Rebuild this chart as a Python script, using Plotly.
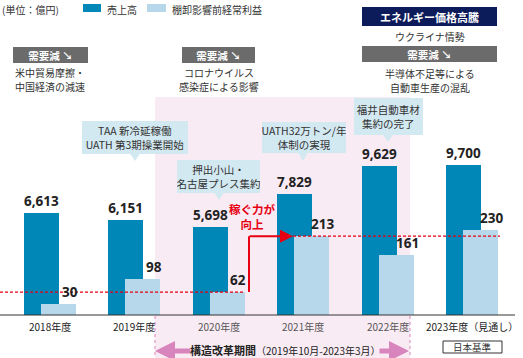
import plotly.graph_objects as go

# ---- data ----
years = ["2018年度", "2019年度", "2020年度", "2021年度", "2022年度", "2023年度（見通し）"]
sales = [6613, 6151, 5698, 7829, 9629, 9700]
profit = [30, 98, 62, 213, 161, 230]

W, H = 523, 358
PLOT_BOTTOM = 315
X0, DX = 50.0, 84.4

def px2x(px):
    return (px - X0) / DX

def py2p(py):
    return (PLOT_BOTTOM - py) / PLOT_BOTTOM

DARK = "#0087b7"
LIGHT = "#b7d8ea"
PINK_BG = "#f9ebf4"
PINK = "#d884bd"
RED = "#e60012"
GRAY = "#6b6b6b"
NAVY = "#0c1b5a"
CALLOUT = "#d3e9f2"
TXT = "#333333"
JP = "Noto Sans CJK JP"
NUM = "Open Sans, Noto Sans CJK JP"
NUMSIZE = 13.5

xs = list(range(len(years)))
bw = 35 / DX
off = 8.5 / DX

fig = go.Figure()
fig.add_trace(go.Bar(
    x=xs, y=sales, width=bw, offset=-off - bw / 2, marker=dict(color=DARK, line=dict(width=0)),
    text=[f"{v:,}" for v in sales], textposition="outside", cliponaxis=False,
    textfont=dict(family=NUM, size=NUMSIZE, color="#222"), texttemplate="<b>%{text}</b>",
    yaxis="y", showlegend=False, hoverinfo="skip"))
fig.add_trace(go.Bar(
    x=xs, y=profit, width=bw, offset=off - bw / 2, marker=dict(color=LIGHT, line=dict(width=0)),
    yaxis="y2", showlegend=False, hoverinfo="skip"))

shapes = []
ann = []

# pink structural reform background
shapes.append(dict(type="rect", xref="x", yref="paper", x0=px2x(155), x1=px2x(410),
                   y0=py2p(358), y1=py2p(97), fillcolor=PINK_BG, line=dict(width=0), layer="below"))
for p in (155, 410):
    shapes.append(dict(type="line", xref="x", yref="paper", x0=px2x(p), x1=px2x(p),
                       y0=py2p(316), y1=py2p(358), line=dict(color=PINK, width=1, dash="dot")))

# baseline
shapes.append(dict(type="line", xref="paper", yref="paper", x0=0, x1=515 / W, y0=0, y1=0,
                   line=dict(color="#333", width=1)))

# red dashed levels
shapes.append(dict(type="line", xref="x", yref="y2", x0=px2x(0), x1=px2x(245), y0=profit[2], y1=profit[2],
                   line=dict(color=RED, width=1.2, dash="3px,2px")))
shapes.append(dict(type="line", xref="x", yref="y2", x0=px2x(293), x1=px2x(500), y0=profit[3], y1=profit[3],
                   line=dict(color=RED, width=1.2, dash="3px,2px")))
# red step
shapes.append(dict(type="line", xref="x", yref="y2", x0=px2x(249), x1=px2x(249), y0=profit[2], y1=profit[3],
                   line=dict(color=RED, width=2)))
ann.append(dict(x=px2x(293), y=profit[3], xref="x", yref="y2", ax=-45, ay=0,
                axref="pixel", ayref="pixel", showarrow=True, arrowhead=2, arrowsize=1.3, arrowwidth=2,
                arrowcolor=RED, text=""))
ann.append(dict(x=px2x(252), y=py2p(216), xref="x", yref="paper", showarrow=False,
                text="<b>稼ぐ力が<br>向上</b>", font=dict(family=JP, size=11.5, color=RED)))

# profit labels
for i, v in enumerate(profit):
    ann.append(dict(x=i + off, y=v, xref="x", yref="y2", xshift=11, yshift=1, yanchor="bottom",
                    showarrow=False, text=f"<b>{v}</b>", font=dict(family=NUM, size=NUMSIZE, color="#222")))

# x tick labels
tick_colors = ["#222", "#222", "#555", "#555", "#555", "#222"]
for i, t in enumerate(years):
    ann.append(dict(x=i, y=py2p(326), xref="x", yref="paper", showarrow=False, text=t,
                    font=dict(family=JP, size=10, color=tick_colors[i])))

# callouts
callouts = [
    ("TAA 新冷延稼働<br>UATH 第3期操業開始", 82, 188, 121, 154, 135, 161),
    ("押出小山・<br>名古屋プレス集約", 177, 260, 160, 193, 219, 200),
    ("UATH32万トン/年<br>体制の実現", 262, 346, 122, 153, 303, 161),
    ("福井自動車材<br>集約の完了", 354, 423, 98, 135, 388, 142),
]
for text, l, r, t, b, px, tip in callouts:
    ann.append(dict(x=px2x((l + r) / 2), y=py2p((t + b) / 2), xref="x", yref="paper", showarrow=False,
                    text=text, width=r - l, height=b - t, bgcolor=CALLOUT, borderpad=0, borderwidth=0,
                    font=dict(family=JP, size=10.5, color=TXT), align="center", valign="middle"))
    shapes.append(dict(type="path", xref="x", yref="paper",
                       path=f"M {px2x(px-5)},{py2p(b-0.5)} L {px2x(px+5)},{py2p(b-0.5)} L {px2x(px)},{py2p(tip)} Z",
                       fillcolor=CALLOUT, line=dict(width=0)))

# header boxes
def box(text, l, r, t, b, color, size=10.5):
    ann.append(dict(x=(l + r) / 2 / W, y=py2p((t + b) / 2), xref="paper", yref="paper", showarrow=False,
                    text=text, width=r - l, height=b - t, bgcolor=color, borderpad=0, borderwidth=0,
                    font=dict(family=JP, size=size, color="white"), align="center", valign="middle"))

def label(text, cx, cy, size=10, color=TXT, anchor="center"):
    ann.append(dict(x=cx / W, y=py2p(cy), xref="paper", yref="paper", showarrow=False, text=text,
                    xanchor=anchor, font=dict(family=JP, size=size, color=color), align="center"))

box("<b>需要減 ↘</b>", 13, 88, 47, 63, GRAY)
label("米中貿易摩擦・", 50, 72.5)
label("中国経済の減速", 50, 86.5)
box("<b>需要減 ↘</b>", 182, 255, 47, 63, GRAY)
label("コロナウイルス", 219, 72.5)
label("感染症による影響", 219, 86.5)
box("<b>エネルギー価格高騰</b>", 362, 497, 7, 26, NAVY, 11)
label("ウクライナ情勢", 430, 36)
box("<b>需要減 ↘</b>", 362, 497, 46, 62, GRAY)
label("半導体不足等による", 430, 73.5)
label("自動車生産の混乱", 430, 87.5)

# unit + legend
label("(単位：億円)", 0, 9, anchor="left")
shapes.append(dict(type="rect", xref="paper", yref="paper", x0=83 / W, x1=101 / W, y0=py2p(12), y1=py2p(4),
                   fillcolor=DARK, line=dict(width=0)))
label("売上高", 105, 9, anchor="left")
shapes.append(dict(type="rect", xref="paper", yref="paper", x0=147 / W, x1=166 / W, y0=py2p(12), y1=py2p(4),
                   fillcolor=LIGHT, line=dict(width=0)))
label("棚卸影響前経常利益", 170, 9, anchor="left")

# bottom period arrows
ann.append(dict(x=px2x(155), y=py2p(351), xref="x", yref="paper", ax=37, ay=0,
                axref="pixel", ayref="pixel", showarrow=True, arrowhead=2, arrowsize=0.8, arrowwidth=5,
                arrowcolor=PINK, text=""))
ann.append(dict(x=px2x(409), y=py2p(351), xref="x", yref="paper", ax=-31, ay=0,
                axref="pixel", ayref="pixel", showarrow=True, arrowhead=2, arrowsize=0.8, arrowwidth=5,
                arrowcolor=PINK, text=""))
label("<b><span style='font-size:11px'>構造改革期間</span></b>（2019年10月-2023年3月）", 285, 350, size=10, color="#222")

# 日本基準 box
shapes.append(dict(type="rect", xref="paper", yref="paper", x0=443 / W, x1=502 / W, y0=py2p(353), y1=py2p(341),
                   fillcolor="white", line=dict(color="#333", width=1)))
label("日本基準", 472.5, 347, size=9.5)

for a in ann:
    a.setdefault("xanchor", "center")
    a.setdefault("yanchor", "middle")

fig.update_layout(
    width=W, height=H, margin=dict(l=0, r=0, t=0, b=H - PLOT_BOTTOM),
    plot_bgcolor="white", paper_bgcolor="white", barmode="overlay", bargap=0,
    xaxis=dict(range=[px2x(0), px2x(W)], showgrid=False, zeroline=False, showticklabels=False,
               showline=False, fixedrange=True),
    yaxis=dict(range=[0, PLOT_BOTTOM / 0.01543], visible=False, fixedrange=True),
    yaxis2=dict(range=[0, PLOT_BOTTOM / 0.37], overlaying="y", visible=False, fixedrange=True),
    shapes=shapes, annotations=ann, font=dict(family=JP),
)
fig.write_html("out.html", config={"displayModeBar": False},
               post_script="document.body.style.margin='0';document.body.style.padding='0';")
